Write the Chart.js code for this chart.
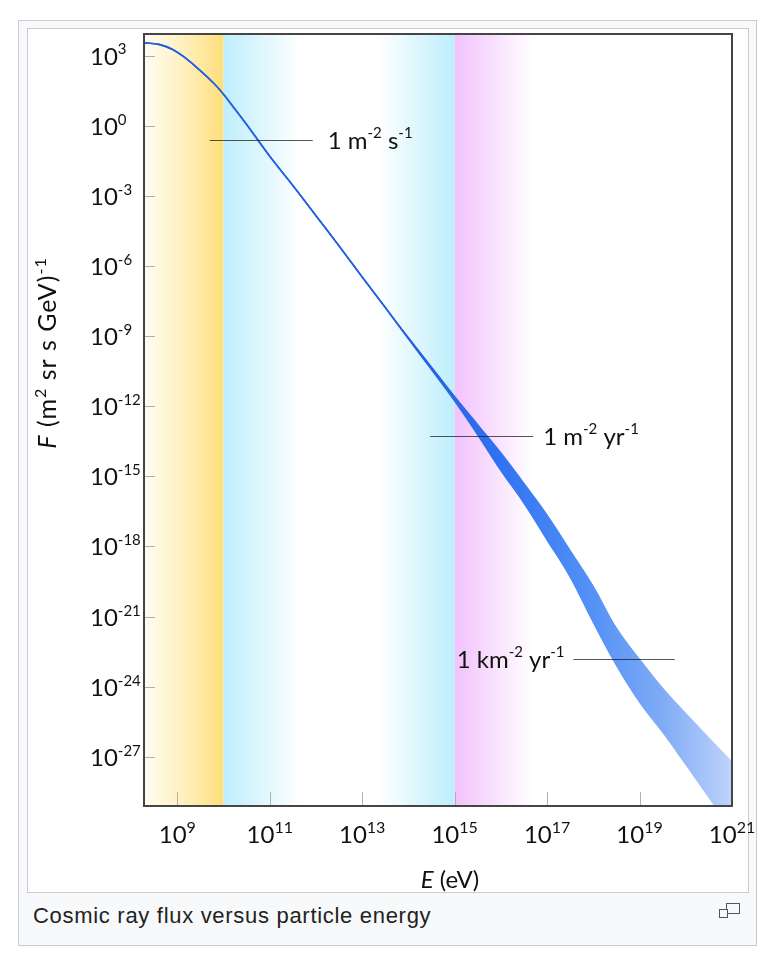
<!DOCTYPE html>
<html>
<head>
<meta charset="utf-8">
<script src="https://cdn.jsdelivr.net/npm/chart.js@4.4.1/dist/chart.umd.min.js"></script>
<style>
  html, body { margin: 0; padding: 0; background: #fff; }
  body { width: 782px; height: 960px; position: relative; overflow: hidden; }
  #thumb { position: absolute; left: 18px; top: 20px; width: 737px; height: 924px; border: 1px solid #c8ccd1; background: #f8f9fa; }
  #inner { position: absolute; left: 27px; top: 28px; width: 720px; height: 863px; border: 1px solid #c8ccd1; background: #fff; }
  #caption { position: absolute; left: 33px; top: 903px; font-family: "Liberation Sans", Arial, sans-serif; font-size: 22px; letter-spacing: 0.7px; color: #222; }
  .mag { position: absolute; border: 1px solid #555; background: #f8f9fa; }
  #fluxChart { position: absolute; left: 0; top: 0; }
</style>
</head>
<body>
<div id="thumb"></div>
<div id="inner"></div>
<div id="caption">Cosmic ray flux versus particle energy</div>
<div class="mag" style="left:726px; top:903px; width:12px; height:9px;"></div>
<div class="mag" style="left:719px; top:909px; width:7px; height:7px;"></div>
<canvas id="fluxChart" width="782" height="960"></canvas>
<script>
// energies and fluxes as log10 values (E in eV, F in (m2 sr s GeV)^-1)
const logE = [8.29, 8.6, 8.9, 9.2, 9.5, 9.8, 10.0, 10.2, 10.5, 11.0, 11.5, 12.0, 12.5, 13.0, 13.5,
  14.0, 14.5, 15.0, 15.5, 16.0, 16.5, 17.0, 17.5, 18.0, 18.5, 19.0, 19.5, 20.0, 20.5, 21.0];
const logFluxHigh = [3.54, 3.475, 3.26, 2.855, 2.35, 1.79, 1.34, 0.83, 0.05, -1.31, -2.56, -3.85, -5.15, -6.47, -7.78,
  -9.07, -10.33, -11.60, -12.80, -14.00, -15.32, -16.67, -18.19, -19.73, -21.51, -22.84, -24.08, -25.16, -26.20, -27.23];
const logFluxLow = [3.54, 3.475, 3.26, 2.855, 2.35, 1.79, 1.34, 0.83, 0.05, -1.31, -2.56, -3.85, -5.15, -6.47, -7.78,
  -9.12, -10.43, -11.77, -13.22, -14.74, -16.14, -17.71, -19.30, -21.24, -23.07, -24.64, -25.93, -27.31, -28.72, -30.13];

// axis ranges and ticks (log10)
const xRange = [8.28, 21];
const yRange = [-29.1, 3.92];
const xTicks = [9, 11, 13, 15, 17, 19, 21];
const yTicks = [3, 0, -3, -6, -9, -12, -15, -18, -21, -24, -27];

// shaded energy regions (log10 E)
const bandFrom = [8.28, 10, 13.33, 15];
const bandTo = [10, 11.66, 15, 16.7];

// reference flux levels
const refFlux = [-0.61, -13.28, -22.83];
const refFrom = [9.70, 14.47, 17.57];
const refTo = [11.93, 16.70, 19.76];
const refLabels = [["1 m", "-2", " s", "-1"], ["1 m", "-2", " yr", "-1"], ["1 km", "-2", " yr", "-1"]];

const bandColors = [
  ["rgba(255,232,150,0.12)", "rgb(255,222,122)"],
  ["rgb(190,238,252)", "rgba(190,238,252,0)"],
  ["rgba(190,238,252,0)", "rgb(190,238,252)"],
  ["rgb(242,194,252)", "rgba(242,194,252,0)"]
];
const FONT = "Lato, 'Open Sans', sans-serif";
const lineColor = "#2360e0";

function fluxGradient(context) {
  const chart = context.chart;
  const { ctx, chartArea, scales } = chart;
  if (!chartArea || !scales.x) return lineColor;
  const x = scales.x;
  const g = ctx.createLinearGradient(x.getPixelForValue(10 ** 14.3), 0, x.getPixelForValue(1e21), 0);
  g.addColorStop(0, "rgb(35,96,225)");
  g.addColorStop(0.25, "rgb(48,114,242)");
  g.addColorStop(0.55, "rgb(85,145,246)");
  g.addColorStop(0.78, "rgb(128,172,246)");
  g.addColorStop(1, "rgb(190,212,250)");
  return g;
}

// draw a run of base / superscript pieces, returns width
function drawParts(ctx, parts, x, y, size, supSize, measureOnly) {
  let cx = x;
  parts.forEach(function (p, i) {
    const sup = i % 2 === 1;
    ctx.font = (sup ? supSize : size) + "px " + FONT;
    if (!measureOnly) ctx.fillText(p, cx, sup ? y - size * 0.42 : y);
    cx += ctx.measureText(p).width;
  });
  return cx - x;
}

const backdrop = {
  id: "backdrop",
  beforeDatasetsDraw(chart) {
    const { ctx, chartArea: a, scales: { x, y } } = chart;
    ctx.save();
    bandFrom.forEach(function (f, i) {
      const x0 = x.getPixelForValue(10 ** f), x1 = x.getPixelForValue(10 ** bandTo[i]);
      const g = ctx.createLinearGradient(x0, 0, x1, 0);
      g.addColorStop(0, bandColors[i][0]);
      g.addColorStop(1, bandColors[i][1]);
      ctx.fillStyle = g;
      ctx.fillRect(x0, a.top, x1 - x0, a.bottom - a.top);
    });
    // inward tick marks
    ctx.strokeStyle = "#b0b0b0";
    ctx.lineWidth = 1;
    yTicks.forEach(function (t) {
      const py = Math.round(y.getPixelForValue(10 ** t)) + 0.5;
      ctx.beginPath(); ctx.moveTo(a.left, py); ctx.lineTo(a.left + 11, py); ctx.stroke();
    });
    xTicks.forEach(function (t) {
      const px = Math.round(x.getPixelForValue(10 ** t)) + 0.5;
      ctx.beginPath(); ctx.moveTo(px, a.bottom); ctx.lineTo(px, a.bottom - 14); ctx.stroke();
    });
    ctx.restore();
  },
  afterDatasetsDraw(chart) {
    const { ctx, chartArea: a, scales: { x, y } } = chart;
    ctx.save();
    // reference lines with labels
    ctx.fillStyle = "#111";
    ctx.textBaseline = "alphabetic";
    refFlux.forEach(function (f, i) {
      const py = Math.round(y.getPixelForValue(10 ** f)) + 0.5;
      const x0 = x.getPixelForValue(10 ** refFrom[i]), x1 = x.getPixelForValue(10 ** refTo[i]);
      ctx.strokeStyle = "rgba(30,30,30,0.75)";
      ctx.lineWidth = 1.2;
      ctx.beginPath(); ctx.moveTo(x0, py); ctx.lineTo(x1, py); ctx.stroke();
      const w = drawParts(ctx, refLabels[i], 0, 0, 24, 15, true);
      const lx = i === 2 ? x0 - 9 - w : x1 + (i === 0 ? 15 : 10);
      drawParts(ctx, refLabels[i], lx, py + 8, 24, 15, false);
    });
    // frame
    ctx.strokeStyle = "#454545";
    ctx.lineWidth = 2;
    ctx.strokeRect(a.left, a.top, a.right - a.left, a.bottom - a.top);
    ctx.restore();
  },
  afterDraw(chart) {
    const { ctx, scales: { x, y } } = chart;
    ctx.save();
    ctx.fillStyle = "#111";
    yTicks.forEach(function (t) {
      const py = y.getPixelForValue(10 ** t);
      drawParts(ctx, ["10", String(t)], 90, py + 9, 24, 15, false);
    });
    xTicks.forEach(function (t) {
      const px = x.getPixelForValue(10 ** t);
      const w = drawParts(ctx, ["10", String(t)], 0, 0, 24, 16, true);
      drawParts(ctx, ["10", String(t)], px - w / 2, 843, 24, 16, false);
    });
    // x title
    ctx.font = "italic 24px " + FONT;
    const we = ctx.measureText("E").width;
    ctx.font = "24px " + FONT;
    const wr = ctx.measureText(" (eV)").width;
    const sx = 450 - (we + wr) / 2;
    ctx.font = "italic 24px " + FONT;
    ctx.fillText("E", sx, 888);
    ctx.font = "24px " + FONT;
    ctx.fillText(" (eV)", sx + we, 888);
    // y title
    ctx.translate(56, 353);
    ctx.rotate(-Math.PI / 2);
    ctx.letterSpacing = "1px";
    ctx.font = "italic 25px " + FONT;
    const wf = ctx.measureText("F").width;
    const parts = [" (m", "2", " sr s GeV)", "-1"];
    const wp = drawParts(ctx, parts, 0, 0, 25, 16, true);
    const start = -(wf + wp) / 2;
    ctx.font = "italic 25px " + FONT;
    ctx.fillText("F", start, 0);
    drawParts(ctx, parts, start + wf, 0, 25, 16, false);
    ctx.restore();
  }
};

function points(fluxes) {
  return logE.map(function (e, i) { return { x: 10 ** e, y: 10 ** fluxes[i] }; });
}

new Chart(document.getElementById("fluxChart"), {
  type: "line",
  data: {
    datasets: [
      {
        label: "upper",
        data: points(logFluxHigh),
        borderColor: fluxGradient,
        borderWidth: 1.6,
        pointRadius: 0,
        fill: false,
        tension: 0.4,
        clip: 0
      },
      {
        label: "lower",
        data: points(logFluxLow),
        borderColor: fluxGradient,
        backgroundColor: fluxGradient,
        borderWidth: 1.6,
        pointRadius: 0,
        fill: "-1",
        tension: 0.4,
        clip: 0
      }
    ]
  },
  options: {
    responsive: false,
    animation: false,
    layout: { padding: { left: 144, top: 34, right: 50, bottom: 154 } },
    scales: {
      x: { type: "logarithmic", min: 10 ** xRange[0], max: 10 ** xRange[1], display: false },
      y: { type: "logarithmic", min: 10 ** yRange[0], max: 10 ** yRange[1], display: false }
    },
    plugins: {
      legend: { display: false },
      tooltip: { enabled: false }
    }
  },
  plugins: [backdrop]
});
</script>
</body>
</html>
